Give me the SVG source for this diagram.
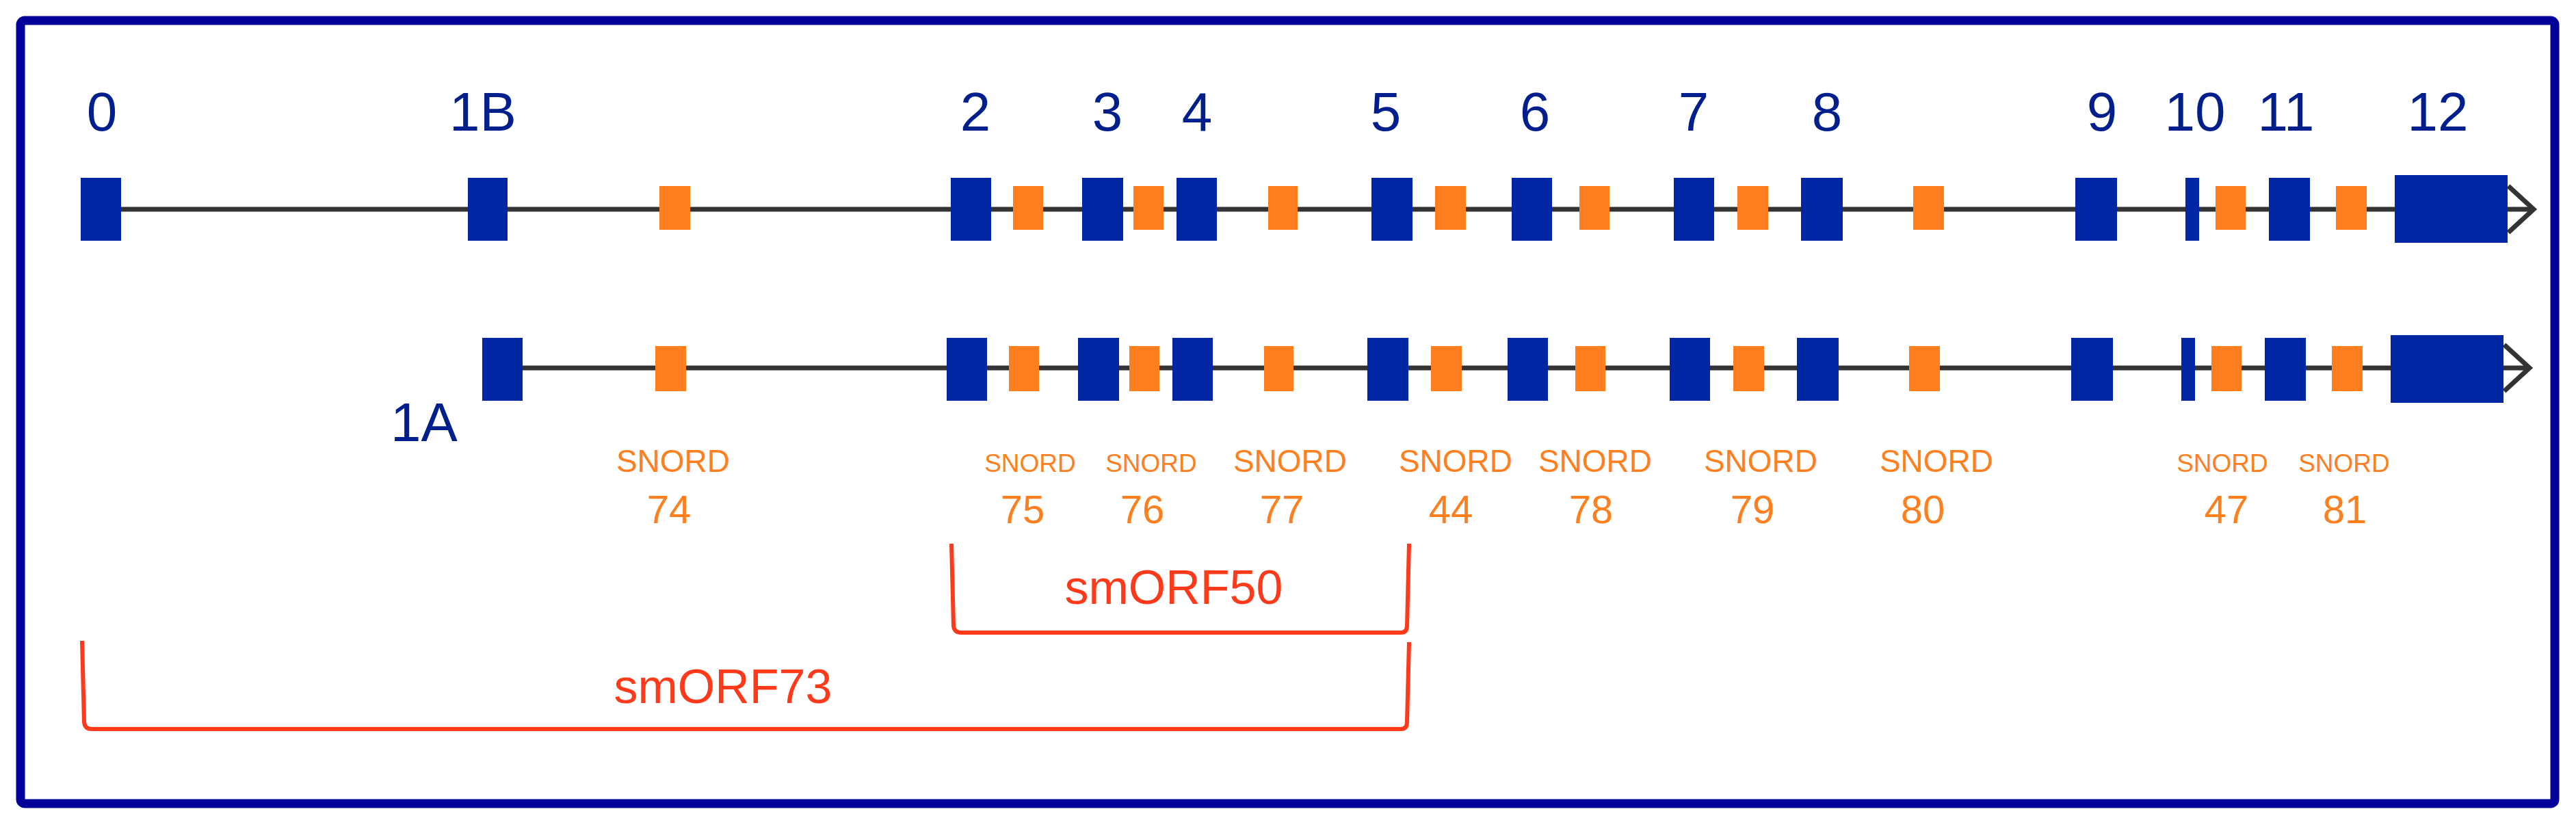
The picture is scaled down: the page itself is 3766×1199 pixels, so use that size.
<svg xmlns="http://www.w3.org/2000/svg" width="3766" height="1199" viewBox="0 0 3766 1199">
<style>
.ex{fill:#0026A3}
.sn{fill:#FF7F1E}
.ln{stroke:#333;stroke-width:7;fill:none}
.lb{font-family:"Liberation Sans",Arial,sans-serif;font-size:80px;fill:#001F8C;text-anchor:middle}
.st{font-family:"Liberation Sans",Arial,sans-serif;fill:#FF7F1E;text-anchor:middle}
.big{font-size:46px}.sm{font-size:37px}.num{font-size:58px}
.br{stroke:#FF3A1A;stroke-width:6;fill:none}
.bt{font-family:"Liberation Sans",Arial,sans-serif;font-size:70px;fill:#FF3A1A;text-anchor:middle}
</style>
<rect x="0" y="0" width="3766" height="1199" fill="#fff"/>
<rect id="frame" x="30" y="30" width="3705" height="1145" rx="6" fill="none" stroke="#000099" stroke-width="13"/>
<g id="connectors">
<line class="ln" x1="177" y1="306" x2="3700" y2="306"/>
<polyline class="ln" points="3667,272 3704,306 3667,340"/>
<line class="ln" x1="760" y1="538" x2="3694" y2="538"/>
<polyline class="ln" points="3661,504 3698,538 3661,572"/>
<path class="br" d="M1391 795 L1394 915 Q1395 925 1405 925 L2048 925 Q2057 925 2057 915 L2060 795"/>
<path class="br" d="M120 937 L123 1056 Q124 1066 134 1066 L2048 1066 Q2057 1066 2057 1056 L2060 939"/>
</g>
<g id="row1">
<rect class="ex" x="118" y="260" width="59" height="92"/>
<rect class="ex" x="684" y="260" width="58" height="92"/>
<rect class="sn" x="964" y="272" width="45" height="64"/>
<rect class="ex" x="1390" y="260" width="59" height="92"/>
<rect class="sn" x="1481" y="272" width="44" height="64"/>
<rect class="ex" x="1582" y="260" width="60" height="92"/>
<rect class="sn" x="1657" y="272" width="44" height="64"/>
<rect class="ex" x="1720" y="260" width="59" height="92"/>
<rect class="sn" x="1854" y="272" width="43" height="64"/>
<rect class="ex" x="2005" y="260" width="60" height="92"/>
<rect class="sn" x="2098" y="272" width="45" height="64"/>
<rect class="ex" x="2210" y="260" width="59" height="92"/>
<rect class="sn" x="2309" y="272" width="44" height="64"/>
<rect class="ex" x="2447" y="260" width="59" height="92"/>
<rect class="sn" x="2540" y="272" width="45" height="64"/>
<rect class="ex" x="2633" y="260" width="61" height="92"/>
<rect class="sn" x="2797" y="272" width="45" height="64"/>
<rect class="ex" x="3034" y="260" width="61" height="92"/>
<rect class="ex" x="3195" y="260" width="20" height="92"/>
<rect class="sn" x="3239" y="272" width="44" height="64"/>
<rect class="ex" x="3317" y="260" width="60" height="92"/>
<rect class="sn" x="3415" y="272" width="45" height="64"/>
<rect class="ex" x="3501" y="256" width="165" height="99"/>
</g>
<g id="row2" transform="translate(-6,232)">
<rect class="ex" x="711" y="262" width="59" height="92"/>
<rect class="sn" x="964" y="274" width="45" height="66"/>
<rect class="ex" x="1390" y="262" width="59" height="92"/>
<rect class="sn" x="1481" y="274" width="44" height="66"/>
<rect class="ex" x="1582" y="262" width="60" height="92"/>
<rect class="sn" x="1657" y="274" width="44" height="66"/>
<rect class="ex" x="1720" y="262" width="59" height="92"/>
<rect class="sn" x="1854" y="274" width="43" height="66"/>
<rect class="ex" x="2005" y="262" width="60" height="92"/>
<rect class="sn" x="2098" y="274" width="45" height="66"/>
<rect class="ex" x="2210" y="262" width="59" height="92"/>
<rect class="sn" x="2309" y="274" width="44" height="66"/>
<rect class="ex" x="2447" y="262" width="59" height="92"/>
<rect class="sn" x="2540" y="274" width="45" height="66"/>
<rect class="ex" x="2633" y="262" width="61" height="92"/>
<rect class="sn" x="2797" y="274" width="45" height="66"/>
<rect class="ex" x="3034" y="262" width="61" height="92"/>
<rect class="ex" x="3195" y="262" width="20" height="92"/>
<rect class="sn" x="3239" y="274" width="44" height="66"/>
<rect class="ex" x="3317" y="262" width="60" height="92"/>
<rect class="sn" x="3415" y="274" width="45" height="66"/>
<rect class="ex" x="3501" y="258" width="165" height="99"/>
</g>
<g id="exon-labels">
<text class="lb" x="149" y="191">0</text>
<text class="lb" x="706" y="191">1B</text>
<text class="lb" x="620" y="645">1A</text>
<text class="lb" x="1426" y="191">2</text>
<text class="lb" x="1619" y="191">3</text>
<text class="lb" x="1750" y="191">4</text>
<text class="lb" x="2026" y="191">5</text>
<text class="lb" x="2244" y="191">6</text>
<text class="lb" x="2476" y="191">7</text>
<text class="lb" x="2671" y="191">8</text>
<text class="lb" x="3073" y="191">9</text>
<text class="lb" x="3209" y="191">10</text>
<text class="lb" x="3342" y="191">11</text>
<text class="lb" x="3564" y="191">12</text>
</g>
<g id="snord-labels">
<text class="st big" x="984" y="690">SNORD</text><text class="st num" x="978" y="765">74</text>
<text class="st sm" x="1506" y="690">SNORD</text><text class="st num" x="1495" y="765">75</text>
<text class="st sm" x="1683" y="690">SNORD</text><text class="st num" x="1670" y="765">76</text>
<text class="st big" x="1886" y="690">SNORD</text><text class="st num" x="1874" y="765">77</text>
<text class="st big" x="2128" y="690">SNORD</text><text class="st num" x="2121" y="765">44</text>
<text class="st big" x="2332" y="690">SNORD</text><text class="st num" x="2326" y="765">78</text>
<text class="st big" x="2574" y="690">SNORD</text><text class="st num" x="2562" y="765">79</text>
<text class="st big" x="2831" y="690">SNORD</text><text class="st num" x="2811" y="765">80</text>
<text class="st sm" x="3249" y="690">SNORD</text><text class="st num" x="3255" y="765">47</text>
<text class="st sm" x="3427" y="690">SNORD</text><text class="st num" x="3428" y="765">81</text>
</g>
<g id="orf-labels">
<text class="bt" x="1716" y="883">smORF50</text>
<text class="bt" x="1057" y="1028">smORF73</text>
</g>
</svg>
